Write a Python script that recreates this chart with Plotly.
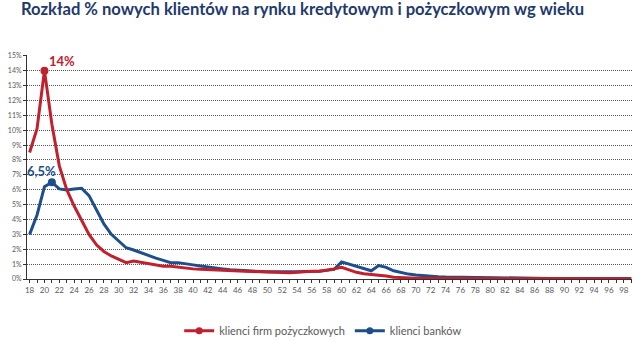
import plotly.graph_objects as go

# Age of new clients (years)
ages = list(range(18, 100))

# Share of new clients by age, % — loan companies (firmy pożyczkowe)
loan_firms = [
    8.5, 10.1, 14.0, 10.4, 7.6, 6.0, 4.9, 3.9, 3.0, 2.3,        # 18-27
    1.85, 1.55, 1.35, 1.1, 1.2, 1.1, 1.05, 0.95, 0.85, 0.85,    # 28-37
    0.78, 0.72, 0.68, 0.65, 0.62, 0.6, 0.58, 0.58, 0.55, 0.52,  # 38-47
    0.5, 0.48, 0.45, 0.42, 0.42, 0.42, 0.45, 0.5, 0.52, 0.52,   # 48-57
    0.58, 0.68, 0.78, 0.62, 0.45, 0.35, 0.3, 0.3, 0.2, 0.12,    # 58-67
    0.08, 0.06, 0.05, 0.05, 0.05, 0.05, 0.04, 0.04, 0.04, 0.04, # 68-77
    0.04, 0.03, 0.03, 0.03, 0.03, 0.03, 0.03, 0.03, 0.03, 0.02, # 78-87
    0.02, 0.02, 0.02, 0.02, 0.02, 0.02, 0.02, 0.02, 0.02, 0.02, # 88-97
    0.02, 0.02,                                                 # 98-99
]

# Share of new clients by age, % — banks
banks = [
    3.0, 4.3, 6.2, 6.5, 6.05, 5.98, 6.05, 6.1, 5.6, 4.7,        # 18-27
    3.7, 3.0, 2.55, 2.1, 1.95, 1.75, 1.6, 1.4, 1.25, 1.1,       # 28-37
    1.1, 1.0, 0.95, 0.88, 0.8, 0.72, 0.68, 0.62, 0.58, 0.55,    # 38-47
    0.52, 0.5, 0.48, 0.47, 0.47, 0.47, 0.48, 0.5, 0.5, 0.52,    # 48-57
    0.58, 0.65, 1.15, 1.0, 0.8, 0.65, 0.55, 0.9, 0.78, 0.55,    # 58-67
    0.42, 0.33, 0.27, 0.22, 0.18, 0.15, 0.13, 0.12, 0.11, 0.1,  # 68-77
    0.09, 0.08, 0.07, 0.07, 0.06, 0.06, 0.05, 0.05, 0.05, 0.04, # 78-87
    0.04, 0.04, 0.04, 0.03, 0.03, 0.03, 0.03, 0.03, 0.03, 0.03, # 88-97
    0.03, 0.03,                                                 # 98-99
]

series_names = ["klienci firm pożyczkowych", "klienci banków"]
peak_labels = ["14%", "6,5%"]

RED = "#c1202d"
BLUE = "#1c4f8c"
GRAY = "#595959"

fig = go.Figure()

# main lines (blue underneath, red on top)
fig.add_trace(go.Scatter(x=ages, y=banks, mode="lines",
                         line=dict(color=BLUE, width=3), showlegend=False))
fig.add_trace(go.Scatter(x=ages, y=loan_firms, mode="lines",
                         line=dict(color=RED, width=3), showlegend=False))

# peak markers
i_red = loan_firms.index(max(loan_firms))
i_blue = banks.index(max(banks))
fig.add_trace(go.Scatter(x=[ages[i_red]], y=[loan_firms[i_red]], mode="markers",
                         marker=dict(color=RED, size=8), showlegend=False))
fig.add_trace(go.Scatter(x=[ages[i_blue]], y=[banks[i_blue]], mode="markers",
                         marker=dict(color=BLUE, size=8), showlegend=False))

# legend entries
for name, col in zip(series_names, [RED, BLUE]):
    fig.add_trace(go.Scatter(x=[None], y=[None], mode="lines+markers", name=name,
                             line=dict(color=col, width=3),
                             marker=dict(color=col, size=7)))

# peak labels
fig.add_annotation(x=ages[i_red], y=loan_firms[i_red], text=f"<b>{peak_labels[0]}</b>",
                   showarrow=False, xanchor="left", yanchor="bottom", xshift=3, yshift=0,
                   font=dict(color=RED, size=13, family="Lato"))
fig.add_annotation(x=ages[i_blue], y=banks[i_blue], text=f"<b>{peak_labels[1]}</b>",
                   showarrow=False, xanchor="right", yanchor="bottom", xshift=6, yshift=1,
                   font=dict(color=BLUE, size=13, family="Lato"))

fig.update_layout(
    width=640, height=341,
    margin=dict(l=27, r=8, t=55, b=62),
    paper_bgcolor="white", plot_bgcolor="white",
    title=dict(text="<b>Rozkład % nowych klientów na rynku kredytowym i pożyczkowym wg wieku</b>",
               x=0, xref="container", xanchor="left", y=1, yref="container", yanchor="top",
               pad=dict(l=21, t=3),
               font=dict(family="Lato", size=16.6, color="#1f3a6b")),
    legend=dict(orientation="h", x=0.505, xref="container", xanchor="center",
                y=0.03, yref="container", yanchor="middle",
                font=dict(family="Lato", size=11, color=GRAY),
                itemwidth=30, tracegroupgap=0),
    font=dict(family="Lato", color=GRAY),
)

fig.update_xaxes(
    range=[17.65, 99.1], tickmode="linear", tick0=18, dtick=2,
    ticks="outside", ticklen=3, tickcolor="#333", tickwidth=1,
    minor=dict(dtick=1, ticks="outside", ticklen=3, tickcolor="#333"),
    showline=True, linecolor="#333", linewidth=1,
    showgrid=False, zeroline=False,
    tickfont=dict(size=8, color=GRAY),
)
fig.update_yaxes(
    range=[0, 15.05], tickmode="linear", tick0=0, dtick=1, ticksuffix="%",
    ticks="outside", ticklen=3, tickcolor="#333",
    showline=True, linecolor="#333", linewidth=1,
    showgrid=True, gridcolor="#555", gridwidth=1, griddash="1px,1px",
    zeroline=False,
    tickfont=dict(size=7, color=GRAY),
)

fig.write_html("out.html")
